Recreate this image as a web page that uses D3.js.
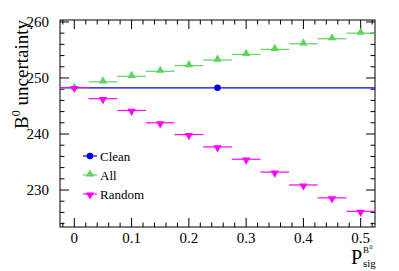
<!DOCTYPE html>
<html>
<head>
<meta charset="utf-8">
<script src="https://cdn.jsdelivr.net/npm/d3@7"></script>
<style>
  body { margin: 0; background: #fff; }
  svg text { font-family: "Liberation Serif"; }
</style>
</head>
<body>
<script>
const pSig = [0, 0.05, 0.1, 0.15, 0.2, 0.25, 0.3, 0.35, 0.4, 0.45, 0.5];
const allVals = [248.2, 249.3, 250.3, 251.2, 252.2, 253.2, 254.2, 255.1, 256.1, 257.0, 258.0];
const randomVals = [248.3, 246.3, 244.2, 242.0, 239.9, 237.7, 235.5, 233.2, 230.9, 228.6, 226.2];
const cleanX = [0.25];
const cleanVals = [248.25];
const xTicks = [0, 0.1, 0.2, 0.3, 0.4, 0.5];
const yTicks = [230, 240, 250, 260];
const legendNames = ["Clean", "All", "Random"];

const serif = "Liberation Serif";
const W = 399, H = 271;
const margin = { top: 20, right: 24, bottom: 44, left: 60 };
const width = W - margin.left - margin.right;
const height = H - margin.top - margin.bottom;

const x = d3.scaleLinear().domain([-0.025, 0.525]).range([0, width]);
const y = d3.scaleLinear().domain([223.4, 260.35]).range([height, 0]);

const svg = d3.select("body").append("svg")
  .attr("width", W)
  .attr("height", H);

function label(sel, px) {
  return sel.attr("font-family", serif).style("font-family", serif).attr("font-size", px);
}

const g = svg.append("g").attr("transform", `translate(${margin.left},${margin.top})`);

// frame
g.append("rect")
  .attr("width", width)
  .attr("height", height)
  .attr("fill", "none")
  .attr("stroke", "#000")
  .attr("stroke-width", 1);

// ticks: ROOT style, inside, on all four sides
const majLen = 9, minLen = 4.5;
const xMinor = d3.range(-0.02, 0.5201, 0.02).map(v => +v.toFixed(2));
const yMinor = d3.range(224, 260.01, 2);

const tickG = g.append("g").attr("stroke", "#000").attr("stroke-width", 1);
xMinor.forEach(v => {
  const isMajor = xTicks.some(t => Math.abs(t - v) < 1e-6);
  const len = isMajor ? majLen : minLen;
  tickG.append("line").attr("x1", x(v)).attr("x2", x(v)).attr("y1", height).attr("y2", height - len);
  tickG.append("line").attr("x1", x(v)).attr("x2", x(v)).attr("y1", 0).attr("y2", len);
});
yMinor.forEach(v => {
  const isMajor = yTicks.includes(v);
  const len = isMajor ? majLen : minLen;
  tickG.append("line").attr("x1", 0).attr("x2", len).attr("y1", y(v)).attr("y2", y(v));
  tickG.append("line").attr("x1", width).attr("x2", width - len).attr("y1", y(v)).attr("y2", y(v));
});

// tick labels
label(g.selectAll("text.xt").data(xTicks).enter().append("text"), 15)
  .attr("class", "xt")
  .attr("x", d => x(d))
  .attr("y", height + 15.5)
  .attr("text-anchor", "middle")
  .text(d => d === 0 ? "0" : d3.format(".1f")(d));

label(g.selectAll("text.yt").data(yTicks).enter().append("text"), 15)
  .attr("class", "yt")
  .attr("x", -11)
  .attr("y", d => y(d) + 5)
  .attr("text-anchor", "end")
  .text(d => d);

// y title
const yTitle = label(svg.append("text"), 19)
  .attr("transform", `translate(28,${margin.top}) rotate(-90)`)
  .attr("text-anchor", "end");
yTitle.append("tspan").text("B");
yTitle.append("tspan").attr("dy", -8).attr("font-size", 12).text("0");
yTitle.append("tspan").attr("dy", 8).text(" uncertainty");

// x title
const xt = svg.append("g").attr("transform", `translate(351,264)`);
label(xt.append("text"), 20).attr("x", 0).attr("y", 0).text("P");
label(xt.append("text"), 11).attr("x", 12).attr("y", 3).text("sig");
label(xt.append("text"), 9).attr("x", 12).attr("y", -11.5).text("B");
label(xt.append("text"), 6).attr("x", 18.5).attr("y", -15).text("0");

const half = 0.025;
const cBlue = "#0000ee", cGreen = "#5fd35f", cMag = "#ff00ff";

// Clean: single point with full-range error bar
g.append("line")
  .attr("x1", x(-0.025)).attr("x2", x(0.525))
  .attr("y1", y(cleanVals[0])).attr("y2", y(cleanVals[0]))
  .attr("stroke", cBlue).attr("stroke-width", 1.2);
g.selectAll("circle.clean").data(cleanX).enter().append("circle")
  .attr("class", "clean")
  .attr("cx", d => x(d))
  .attr("cy", (d, i) => y(cleanVals[i]))
  .attr("r", 3.3)
  .attr("fill", cBlue);

const tri = d3.symbol().type(d3.symbolTriangle).size(30);

function series(vals, color, flip) {
  const sg = g.append("g");
  sg.selectAll("line").data(pSig).enter().append("line")
    .attr("x1", d => x(d - half)).attr("x2", d => x(d + half))
    .attr("y1", (d, i) => y(vals[i])).attr("y2", (d, i) => y(vals[i]))
    .attr("stroke", color).attr("stroke-width", 1.2);
  sg.selectAll("path").data(pSig).enter().append("path")
    .attr("d", tri)
    .attr("transform", (d, i) => `translate(${x(d)},${y(vals[i]) + (flip ? 0.8 : -0.8)}) rotate(${flip ? 180 : 0})`)
    .attr("fill", color);
}
series(allVals, cGreen, false);
series(randomVals, cMag, true);

// legend
const legend = g.append("g").attr("transform", "translate(30,136)");
const legColors = [cBlue, cGreen, cMag];
legendNames.forEach((name, i) => {
  const lg = legend.append("g").attr("transform", `translate(0,${i * 19})`);
  lg.append("line").attr("x1", -7).attr("x2", 7).attr("y1", 0).attr("y2", 0)
    .attr("stroke", legColors[i]).attr("stroke-width", 1.2);
  if (i === 0) {
    lg.append("circle").attr("r", 3.3).attr("fill", legColors[i]);
  } else {
    lg.append("path").attr("d", tri)
      .attr("transform", i === 2 ? "translate(0,0.8) rotate(180)" : "translate(0,-0.8)")
      .attr("fill", legColors[i]);
  }
  label(lg.append("text"), 13).attr("x", 10).attr("y", 4.5).text(name);
});
</script>
</body>
</html>
